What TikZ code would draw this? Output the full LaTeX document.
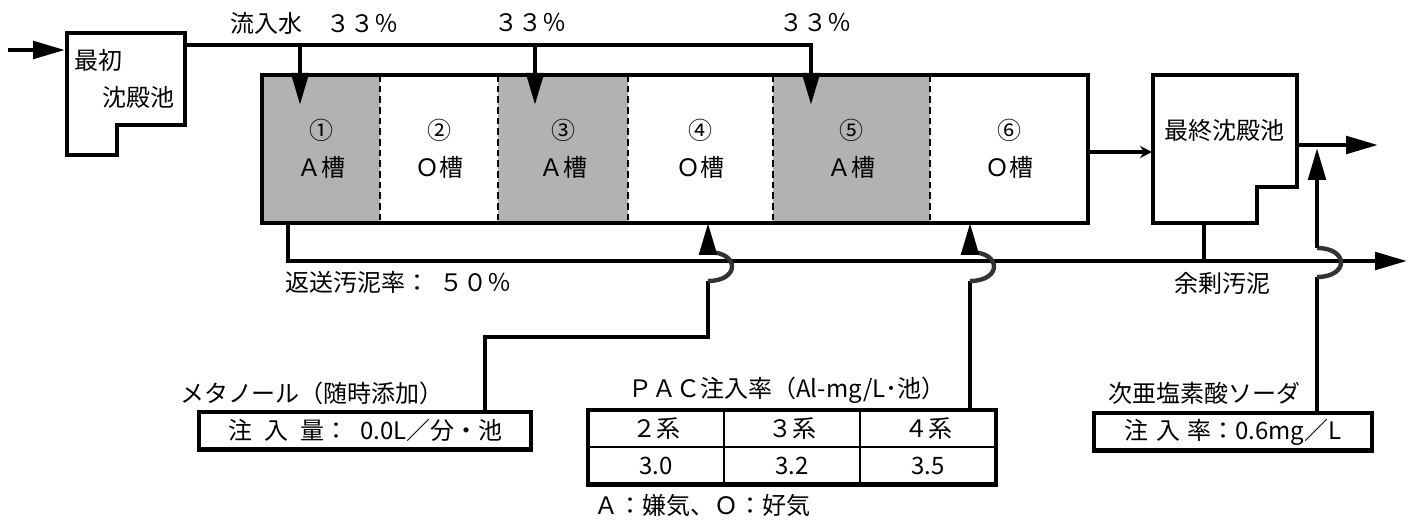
\documentclass[tikz,border=0pt]{standalone}
\usepackage{fontspec}
\setmainfont{Noto Sans CJK JP}
\usetikzlibrary{positioning,arrows.meta}

\definecolor{tankgray}{gray}{0.70}
\definecolor{hopgray}{gray}{0.2}

\begin{document}
\begin{tikzpicture}[x=0.75pt, y=-0.75pt, font=\fontsize{18pt}{28pt}\selectfont,
  pipe/.style = {line width=3.3pt},
  flow/.style = {pipe, -{Triangle[length=24pt, width=13pt]}},
  smallflow/.style = {pipe, -{Stealth[length=9pt, width=9pt]}},
  hop/.style = {pipe, hopgray},
  cell/.style = {minimum height=111pt, inner sep=0pt, outer sep=0pt, align=center},
  acell/.style = {cell, fill=tankgray},
  divider/.style = {line width=1pt, dash pattern=on 5pt off 3pt},
  infobox/.style = {draw, pipe, inner sep=0pt, minimum height=28pt},
  pac/.style = {draw, line width=1.5pt, minimum width=102pt, minimum height=28pt, inner sep=0pt, outer sep=0pt}]
\useasboundingbox (0,0) rectangle (1416,520);

% primary settling tank
\draw[pipe] (67,33) -- (185,33) -- (185,125) -- (117,125) -- (117,155) -- (67,155) -- cycle;
\node[anchor=west] (pst1) at (70,60) {最初};
\node[anchor=west] (pst2) at (98,97) {沈殿池};
\coordinate (feed) at (8,50);
\coordinate (pstin) at (65,50);
\draw[flow] (feed) -- (pstin);

% reaction tank
\node[acell, minimum width=88.5pt, anchor=north west] (c1) at (262,75) {①\\Ａ槽};
\node[cell, minimum width=88.5pt, right=0pt of c1] (c2) {②\\Ｏ槽};
\node[acell, minimum width=97.5pt, right=0pt of c2] (c3) {③\\Ａ槽};
\node[cell, minimum width=108.75pt, right=0pt of c3] (c4) {④\\Ｏ槽};
\node[acell, minimum width=117.75pt, right=0pt of c4] (c5) {⑤\\Ａ槽};
\node[cell, minimum width=118.5pt, right=0pt of c5] (c6) {⑥\\Ｏ槽};
\foreach \c in {c1,c2,c3,c4,c5}
  \draw[divider] (\c.north east) -- (\c.south east);
\draw[pipe] (c1.north west) rectangle (c6.south east);

% step inflow
\coordinate (pstout) at (185,45);
\coordinate (split1) at (300,45);
\coordinate (split2) at (535,45);
\coordinate (split3) at (811,45);
\coordinate (drop1) at (300,105);
\coordinate (drop2) at (535,105);
\coordinate (drop3) at (811,105);
\draw[flow] (pstout) -- (split3) -- (drop3);
\draw[flow] (split1) -- (drop1);
\draw[flow] (split2) -- (drop2);
\node (q1) at (314,23) {流入水　３３％};
\node (q2) at (530,23) {３３％};
\node (q3) at (815,23) {３３％};

% final settling tank
\draw[pipe] (1153,75) -- (1297,75) -- (1297,187) -- (1257,187) -- (1257,223) -- (1153,223) -- cycle;
\node (fst) at (1224,130) {最終沈殿池};
\coordinate (aerout) at (1088,152);
\coordinate (fstin) at (1152,152);
\draw[smallflow] (aerout) -- (fstin);
\coordinate (fstout) at (1297,145);
\coordinate (eff) at (1378,145);
\draw[flow] (fstout) -- (eff);

% return and excess sludge
\coordinate (ras0) at (288,223);
\coordinate (ras1) at (288,261);
\coordinate (was) at (1407,261);
\draw[flow] (ras0) -- (ras1) -- (was);
\coordinate (fstbot) at (1204,223);
\coordinate (fstjn) at (1204,261);
\draw[pipe] (fstbot) -- (fstjn);
\node[anchor=west] (raslbl) at (281,282) {返送汚泥率：\hspace{.4em}５０％};
\node (waslbl) at (1222,283) {余剰汚泥};

% methanol
\node[anchor=west] (methlbl) at (176,393) {メタノール（随時添加）};
\node[infobox, minimum width=249pt, anchor=north west] (methbox) at (197,410) {注\hspace{.5em}入\hspace{.5em}量：\hspace{.5em}0.0L／分・池};
\coordinate (m0) at (485,410);
\coordinate (m1) at (485,337);
\coordinate (m2) at (708,337);
\coordinate (m3) at (708,281);
\coordinate (m4) at (708,252);
\coordinate (m5) at (708,223);
\draw[pipe] (m0) -- (m1) -- (m2) -- (m3);
\draw[hop] (m3) .. controls +(32,0) and +(32,0) .. (m4);
\draw[flow] (m4) -- (m5);

% PAC
\node (paclbl) at (787,390) {ＰＡＣ注入率（Al-mg/L･池）};
\node[pac, anchor=north west] (p11) at (588,410) {２系};
\node[pac, right=0pt of p11] (p12) {３系};
\node[pac, right=0pt of p12] (p13) {４系};
\node[pac, below=0pt of p11] (p21) {3.0};
\node[pac, right=0pt of p21] (p22) {3.2};
\node[pac, right=0pt of p22] (p23) {3.5};
\draw[pipe] (p11.north west) rectangle (p23.south east);
\coordinate (pac0) at (970,410);
\coordinate (pac1) at (970,281);
\coordinate (pac2) at (970,252);
\coordinate (pac3) at (970,223);
\draw[pipe] (pac0) -- (pac1);
\draw[hop] (pac1) .. controls +(32,0) and +(32,0) .. (pac2);
\draw[flow] (pac2) -- (pac3);
\node (legend) at (702,505) {Ａ：嫌気、Ｏ：好気};

% hypochlorite
\node[anchor=west] (hypolbl) at (1104,393) {次亜塩素酸ソーダ};
\node[infobox, minimum width=208.5pt, anchor=north west] (hypobox) at (1092,411) {注\hspace{.3em}入\hspace{.3em}率：0.6mg／L};
\coordinate (h0) at (1317,411);
\coordinate (h1) at (1317,277);
\coordinate (h2) at (1317,248);
\coordinate (h3) at (1317,148);
\draw[pipe] (h0) -- (h1);
\draw[hop] (h1) .. controls +(32,0) and +(32,0) .. (h2);
\draw[flow] (h2) -- (h3);
\end{tikzpicture}
\end{document}
